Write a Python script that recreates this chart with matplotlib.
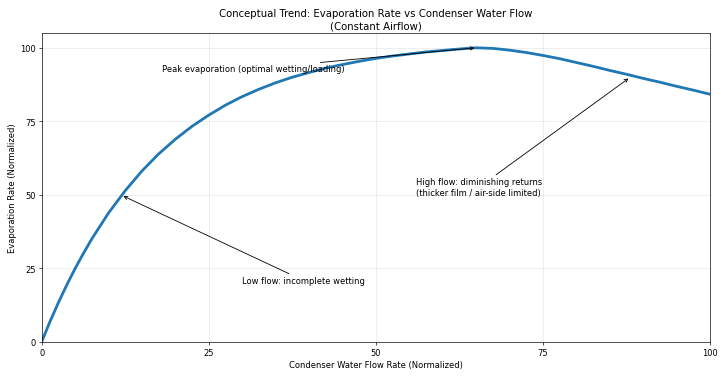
import numpy as np
import matplotlib
matplotlib.use("Agg")
import matplotlib.pyplot as plt

# values
flow = [0, 1.25, 2.5, 3.75, 5, 6.25, 7.5, 10, 12.5, 15, 17.5, 20, 22.5, 25, 27.5, 30, 32.5,
        35, 37.5, 40, 42.5, 45, 47.5, 50, 52.5, 55, 57.5, 60, 62.5, 65,
        67.5, 70, 72.5, 75, 77.5, 80, 82.5, 85, 87.5, 90, 92.5, 95, 97.5, 100]
evap = [0, 6.9, 13.3, 19.3, 24.9, 30.1, 35.0, 43.8, 51.4, 58.1, 63.9, 68.9, 73.3, 77.1, 80.5, 83.4, 85.9,
        88.1, 90.0, 91.6, 93.1, 94.3, 95.4, 96.4, 97.2, 97.9, 98.6, 99.1, 99.6, 100.0,
        99.8, 99.2, 98.4, 97.4, 96.3, 95.0, 93.7, 92.3, 91.0, 89.6, 88.3, 86.9, 85.6, 84.2]

title = "Conceptual Trend: Evaporation Rate vs Condenser Water Flow\n(Constant Airflow)"
ticks = [0, 25, 50, 75, 100]

# drawn at 12x6.23 in, saved at low dpi so it comes out 726x377
fig, ax = plt.subplots(figsize=(12, 6.231))
ax.plot(flow, evap, color="#1f77b4", linewidth=3.3)

ax.set_xlim(0, 100)
ax.set_ylim(0, 105)
ax.set_xticks(ticks)
ax.set_yticks(ticks)
ax.grid(True, alpha=0.3)

ax.set_title(title)
ax.set_xlabel("Condenser Water Flow Rate (Normalized)")
ax.set_ylabel("Evaporation Rate (Normalized)")

arrow = dict(arrowstyle="->", color="black")
ax.annotate("Peak evaporation (optimal wetting/loading)", xy=(65, 100.0),
            xytext=(18, 92), arrowprops=arrow)
ax.annotate("Low flow: incomplete wetting", xy=(12, 49.8),
            xytext=(30, 20), arrowprops=arrow)
ax.annotate("High flow: diminishing returns\n(thicker film / air-side limited)",
            xy=(88, 89.9), xytext=(56, 50), arrowprops=arrow)

fig.tight_layout(pad=0.95)
fig.savefig("out.png", dpi=60.5)
